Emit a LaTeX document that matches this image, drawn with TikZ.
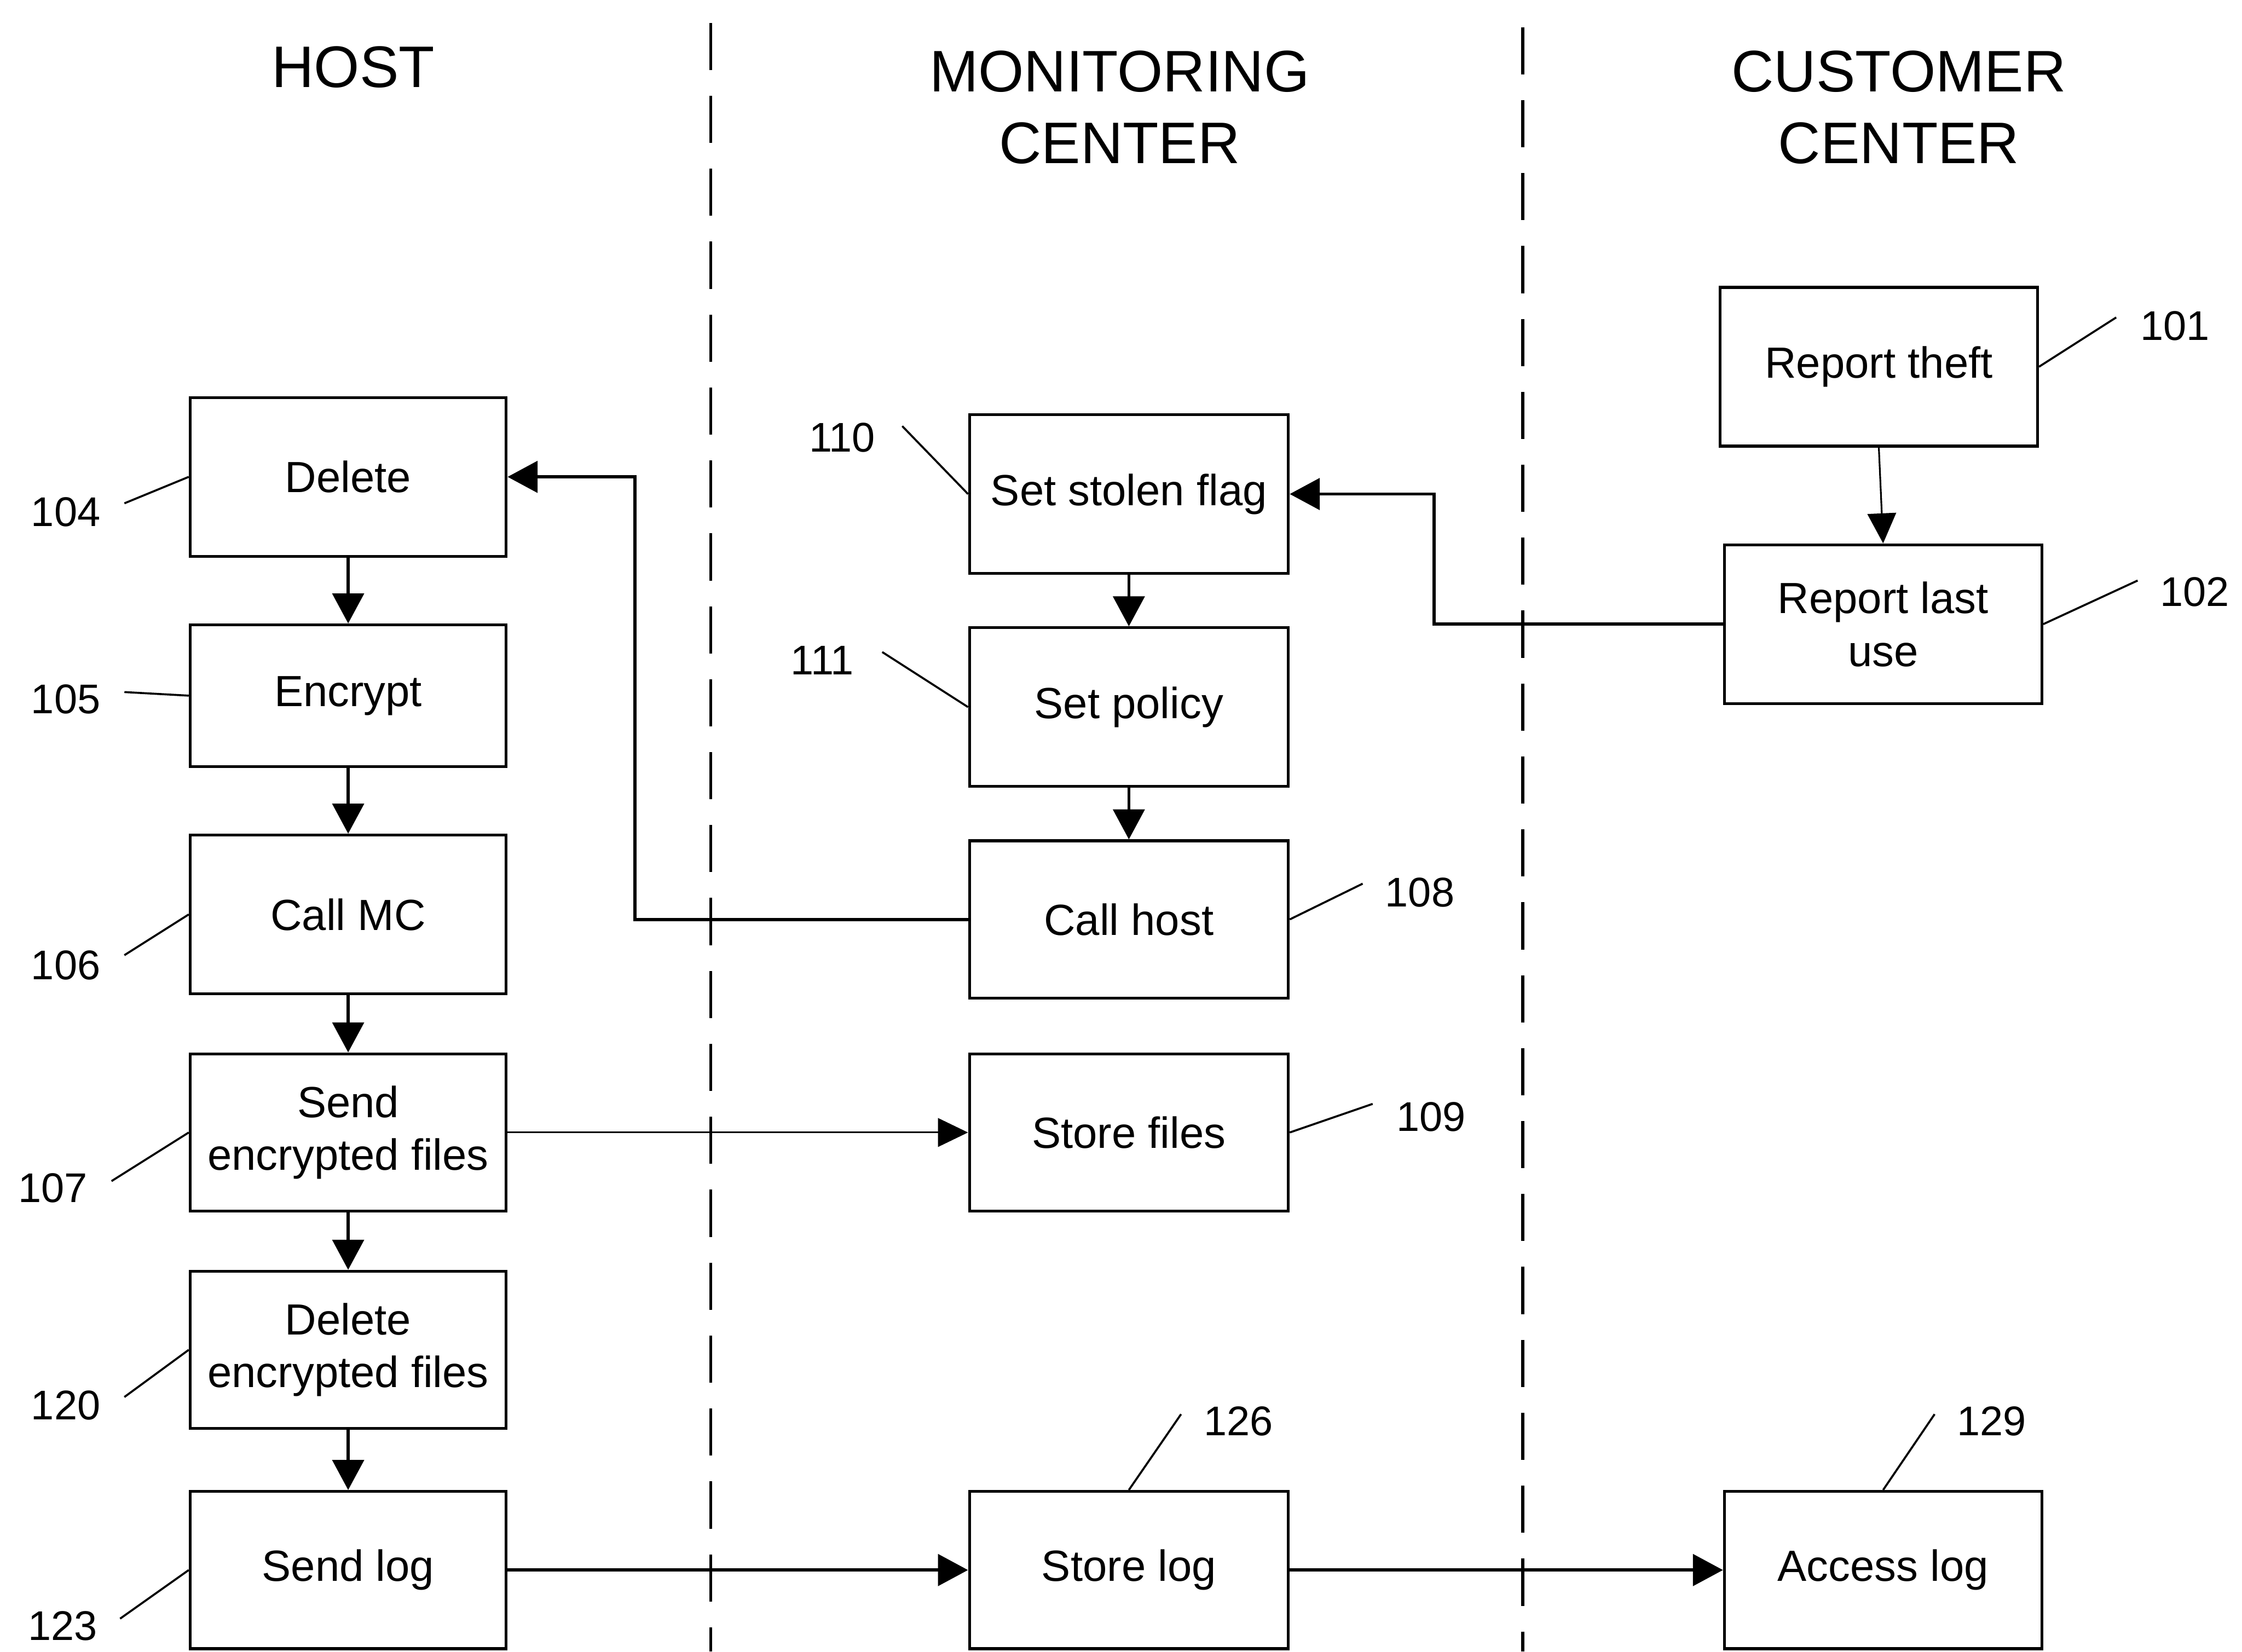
\documentclass[tikz,border=0pt]{standalone}
\usepackage{fontspec}
\setmainfont{Liberation Sans}
\usetikzlibrary{arrows.meta}
\begin{document}
\begin{tikzpicture}[x=1pt,y=-1pt,
  box/.style={draw, line width=2pt, inner sep=0pt, align=center, font=\fontsize{30.5}{37}\selectfont},
  hw/.style={box, minimum width=221pt},
  mw/.style={box, minimum width=223pt},
  cw/.style={box, minimum width=222pt},
  arr/.style={line width=2.2pt, -{Triangle[length=21pt,width=22pt]}},
  thinarr/.style={line width=1.2pt, -{Triangle[length=21pt,width=20pt]}},
  lead/.style={line width=1.4pt},
  num/.style={font=\fontsize{29}{35}\selectfont, inner sep=0pt},
  head/.style={font=\fontsize{41}{50}\selectfont, align=center, inner sep=0pt},
  lane/.style={line width=2pt, dash pattern=on 33pt off 18pt}]
\useasboundingbox (0,0) rectangle (1568,1155);

% lane separators
\coordinate (d1t) at (497,16);
\coordinate (d1b) at (497,1155);
\coordinate (d2t) at (1065,19);
\coordinate (d2b) at (1065,1155);
\draw[lane] (d1t) -- (d1b);
\draw[lane] (d2t) -- (d2b);

% headings
\node[head] (hhost) at (247,47) {HOST};
\node[head] (hmc) at (783,75) {MONITORING\\CENTER};
\node[head] (hcc) at (1328,75) {CUSTOMER\\CENTER};

% host column
\node[hw, minimum height=111pt] (del) at (243.5,333.5) {Delete};
\node[hw, minimum height=99pt]  (enc) at (243.5,486.5) {Encrypt};
\node[hw, minimum height=111pt] (cmc) at (243.5,639.5) {Call MC};
\node[hw, minimum height=110pt] (se)  at (243.5,792) {Send\\encrypted files};
\node[hw, minimum height=110pt] (de)  at (243.5,944) {Delete\\encrypted files};
\node[hw, minimum height=110pt] (sl)  at (243.5,1098) {Send log};

% monitoring column
\node[mw, minimum height=111pt] (ssf) at (789.5,345.5) {Set stolen flag};
\node[mw, minimum height=111pt] (sp)  at (789.5,494.5) {Set policy};
\node[mw, minimum height=110pt] (ch)  at (789.5,643) {Call host};
\node[mw, minimum height=110pt] (sf)  at (789.5,792) {Store files};
\node[mw, minimum height=110pt] (stl) at (789.5,1098) {Store log};

% customer column
\node[cw, minimum height=111pt] (rt) at (1314,256.5) {Report theft};
\node[cw, minimum height=111pt] (rl) at (1317,436.5) {Report last\\use};
\node[cw, minimum height=110pt] (al) at (1317,1098) {Access log};

% vertical flows
\draw[arr] (del) -- (enc);
\draw[arr] (enc) -- (cmc);
\draw[arr] (cmc) -- (se);
\draw[arr] (se) -- (de);
\draw[arr] (de) -- (sl);
\draw[arr] (ssf) -- (sp);
\draw[arr] (sp) -- (ch);
\draw[thinarr] (rt.south) -- (rl.north);

% cross-lane connectors
\coordinate (k1) at (1003,0);
\coordinate (k2) at (444,0);
\draw[arr] (rl.west) -- (rl.west -| k1) -- (ssf.east -| k1) -- (ssf.east);
\draw[arr] (ch.west) -- (ch.west -| k2) -- (del.east -| k2) -- (del.east);
\draw[thinarr] (se.east) -- (sf.west);
\draw[arr] (sl.east) -- (stl.west);
\draw[arr] (stl.east) -- (al.west);

% reference numerals
\node[num] (n101) at (1521,228) {101};
\node[num] (n102) at (1535,414) {102};
\node[num] (n104) at (46,358) {104};
\node[num] (n105) at (46,489) {105};
\node[num] (n106) at (46,675) {106};
\node[num] (n107) at (37,831) {107};
\node[num] (n120) at (46,983) {120};
\node[num] (n123) at (44,1137) {123};
\node[num] (n110) at (589,306) {110};
\node[num] (n111) at (575,462) {111};
\node[num] (n108) at (993,624) {108};
\node[num] (n109) at (1001,781) {109};
\node[num] (n126) at (866,994) {126};
\node[num] (n129) at (1393,994) {129};

% leader lines
\coordinate (l101) at (1480,222);
\coordinate (l102) at (1495,406);
\coordinate (l104) at (87,352);
\coordinate (l105) at (87,484);
\coordinate (l106) at (87,668);
\coordinate (l107) at (78,826);
\coordinate (l120) at (87,977);
\coordinate (l123) at (84,1132);
\coordinate (l110) at (631,298);
\coordinate (l111) at (617,456);
\coordinate (l108) at (953,618);
\coordinate (l109) at (960,772);
\coordinate (l126) at (826,989);
\coordinate (l129) at (1353,989);
\draw[lead] (rt.east) -- (l101);
\draw[lead] (rl.east) -- (l102);
\draw[lead] (del.west) -- (l104);
\draw[lead] (enc.west) -- (l105);
\draw[lead] (cmc.west) -- (l106);
\draw[lead] (se.west) -- (l107);
\draw[lead] (de.west) -- (l120);
\draw[lead] (sl.west) -- (l123);
\draw[lead] (ssf.west) -- (l110);
\draw[lead] (sp.west) -- (l111);
\draw[lead] (ch.east) -- (l108);
\draw[lead] (sf.east) -- (l109);
\draw[lead] (stl.north) -- (l126);
\draw[lead] (al.north) -- (l129);
\end{tikzpicture}
\end{document}
